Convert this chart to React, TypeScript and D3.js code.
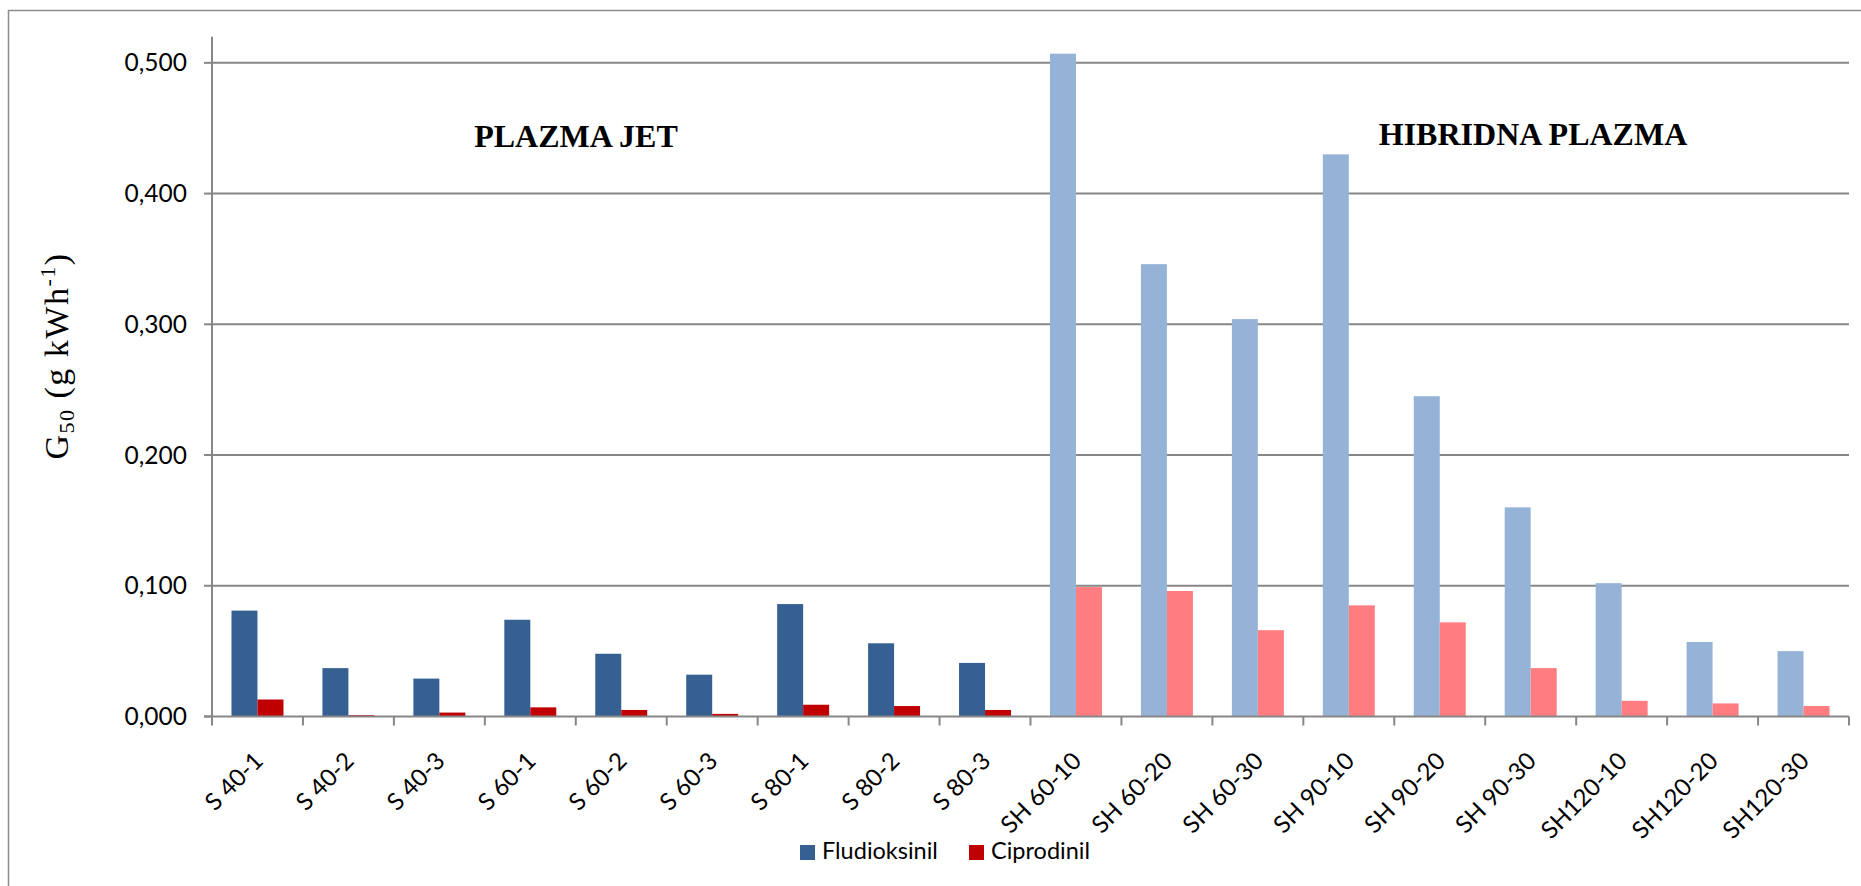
import React from "react";
import * as d3 from "d3";

const categories = ["S 40-1","S 40-2","S 40-3","S 60-1","S 60-2","S 60-3","S 80-1","S 80-2","S 80-3","SH 60-10","SH 60-20","SH 60-30","SH 90-10","SH 90-20","SH 90-30","SH120-10","SH120-20","SH120-30"];
const fludioksinil = [0.081,0.037,0.029,0.074,0.048,0.032,0.086,0.056,0.041,0.507,0.346,0.304,0.430,0.245,0.160,0.102,0.057,0.050];
const ciprodinil = [0.013,0.001,0.003,0.007,0.005,0.002,0.009,0.008,0.005,0.099,0.096,0.066,0.085,0.072,0.037,0.012,0.010,0.008];
const groups = ["jet","jet","jet","jet","jet","jet","jet","jet","jet","hib","hib","hib","hib","hib","hib","hib","hib","hib"];
const yTicks = [0, 0.1, 0.2, 0.3, 0.4, 0.5];
const seriesNames = ["Fludioksinil", "Ciprodinil"];

const W = 1861, H = 886;
const plot = { left: 212, right: 1849, top: 36.7, bottom: 716.5 };
const colors: Record<string, [string, string]> = {
  jet: ["#376092", "#C00000"],
  hib: ["#95B3D7", "#FF7C80"],
};
const sansFont = "Lato, 'Open Sans', sans-serif";
const serifFont = "'Times New Roman', 'Liberation Serif', serif";
const locale = d3.formatLocale({ decimal: ",", thousands: ".", grouping: [3], currency: ["", ""] });
const fmt = locale.format(".3f");

export default function App() {
  const x = d3.scaleBand<string>().domain(categories).range([plot.left, plot.right]).paddingInner(0).paddingOuter(0);
  const y = d3.scaleLinear().domain([0, 0.52]).range([plot.bottom, plot.top]);
  const bw = x.bandwidth();
  const barW = bw / 3.5;
  const grid = "#878787";

  return (
    <svg width={W} height={H} style={{ position: "absolute", left: 0, top: 0, background: "#fff" }}>
      <rect x={8.5} y={10.5} width={W + 20} height={H + 20} fill="#fff" stroke="#8c8c8c" strokeWidth={1.5} />
      {yTicks.filter((t) => t > 0).map((t) => (
        <line key={"g" + t} x1={plot.left} x2={plot.right} y1={y(t)} y2={y(t)} stroke={grid} strokeWidth={2} />
      ))}
      {categories.map((c, i) => {
        const cx = (x(c) as number) + bw / 2;
        const cols = colors[groups[i]];
        return (
          <g key={c}>
            <rect x={cx - barW} y={y(fludioksinil[i])} width={barW} height={y(0) - y(fludioksinil[i])} fill={cols[0]} />
            <rect x={cx} y={y(ciprodinil[i])} width={barW} height={y(0) - y(ciprodinil[i])} fill={cols[1]} />
          </g>
        );
      })}
      <line x1={plot.left} x2={plot.left} y1={plot.top} y2={plot.bottom} stroke={grid} strokeWidth={2} />
      <line x1={plot.left - 8} x2={plot.right} y1={plot.bottom} y2={plot.bottom} stroke={grid} strokeWidth={2} />
      {yTicks.map((t) => (
        <g key={"t" + t}>
          <line x1={plot.left - 8} x2={plot.left} y1={y(t)} y2={y(t)} stroke={grid} strokeWidth={2} />
          <text x={plot.left - 25} y={y(t)} dy="0.35em" textAnchor="end" fontFamily={sansFont} fontSize={24.5} fill="#000">
            {fmt(t)}
          </text>
        </g>
      ))}
      {[...categories.map((c) => x(c) as number), plot.right].map((px, i) => (
        <line key={"xt" + i} x1={px} x2={px} y1={plot.bottom} y2={plot.bottom + 9} stroke={grid} strokeWidth={2} />
      ))}
      {categories.map((c) => {
        const cx = (x(c) as number) + bw / 2;
        return (
          <text key={"l" + c} transform={`translate(${cx + 7},${plot.bottom + 46}) rotate(-45)`} textAnchor="end" fontFamily={sansFont} fontSize={24} fill="#000">
            {c}
          </text>
        );
      })}
      <text transform={`translate(68,356) rotate(-90)`} textAnchor="middle" fontFamily={serifFont} fontSize={34} letterSpacing={1.5} fill="#000">
        <tspan>G</tspan>
        <tspan fontSize={22} dy={6}>50</tspan>
        <tspan dy={-6}> (g kWh</tspan>
        <tspan fontSize={22} dy={-13}>-1</tspan>
        <tspan dy={13}>)</tspan>
      </text>
      <text x={576} y={147} textAnchor="middle" fontFamily={serifFont} fontWeight="bold" fontSize={32} fill="#000">PLAZMA JET</text>
      <text x={1533} y={145} textAnchor="middle" fontFamily={serifFont} fontWeight="bold" fontSize={32} fill="#000">HIBRIDNA PLAZMA</text>
      <g>
        <rect x={800} y={845} width={15} height={15} fill={colors.jet[0]} />
        <text x={822} y={859} fontFamily={sansFont} fontSize={23.5} fill="#000">{seriesNames[0]}</text>
        <rect x={969} y={845} width={15} height={15} fill={colors.jet[1]} />
        <text x={991} y={859} fontFamily={sansFont} fontSize={23.5} fill="#000">{seriesNames[1]}</text>
      </g>
    </svg>
  );
}
